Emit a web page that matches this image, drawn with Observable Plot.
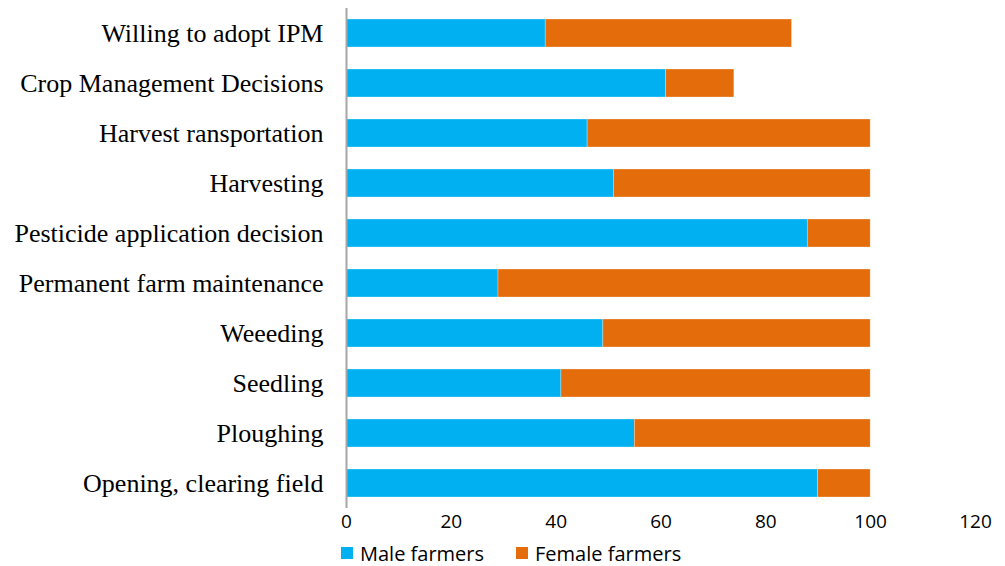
<!DOCTYPE html>
<html>
<head>
<meta charset="utf-8">
<script src="https://cdn.jsdelivr.net/npm/d3@7"></script>
<script src="https://cdn.jsdelivr.net/npm/@observablehq/plot@0.6"></script>
<style>
  body { margin: 0; background: #fff; }
  #legend { display: flex; align-items: center; padding-left: 341px; height: 26px; font-family: "Open Sans", sans-serif; font-size: 20px; color: #000; }
  .sw { display: inline-block; width: 12px; height: 12px; margin-right: 7px; }
  .item { display: flex; align-items: center; margin-right: 32px; }
</style>
</head>
<body>
<div id="chart"></div>
<div id="legend"></div>
<script>
const categories = [
  "Willing to adopt IPM",
  "Crop Management Decisions",
  "Harvest ransportation",
  "Harvesting",
  "Pesticide application decision",
  "Permanent farm maintenance",
  "Weeeding",
  "Seedling",
  "Ploughing",
  "Opening, clearing field"
];
const maleValues   = [38, 61, 46, 51, 88, 29, 49, 41, 55, 90];
const femaleValues = [47, 13, 54, 49, 12, 71, 51, 59, 45, 10];
const seriesNames = ["Male farmers", "Female farmers"];
const seriesColors = ["#00B0F0", "#E46C0A"];
const xTicks = [0, 20, 40, 60, 80, 100, 120];

const data = [];
categories.forEach((c, i) => {
  data.push({category: c, series: seriesNames[0], value: maleValues[i]});
  data.push({category: c, series: seriesNames[1], value: femaleValues[i]});
});

const chart = Plot.plot({
  width: 1005,
  height: 540,
  marginLeft: 346,
  marginRight: 30,
  marginTop: 8,
  marginBottom: 32,
  style: {background: "#fff"},
  x: {domain: [0, 120], ticks: xTicks, label: null},
  y: {domain: categories, label: null, paddingInner: 0.44, paddingOuter: 0.22},
  color: {domain: seriesNames, range: seriesColors},
  marks: [
    Plot.barX(data, Plot.stackX({x: "value", y: "category", fill: "series", order: null, stroke: "#ffffff", strokeOpacity: 0.5, strokeWidth: 0.6})),
    Plot.axisX({ticks: xTicks, tickSize: 0, tickPadding: 6, fontSize: 19, fontFamily: "Open Sans, sans-serif", fill: "#000", label: null}),
    Plot.axisY({tickSize: 0, tickPadding: 23, fontSize: 26, fontFamily: "Liberation Serif, Times New Roman, serif", fill: "#000", label: null}),
    Plot.ruleX([0], {stroke: "#A6A6A6", strokeWidth: 2})
  ]
});
document.getElementById("chart").appendChild(chart);

const legend = document.getElementById("legend");
seriesNames.forEach((n, i) => {
  const it = document.createElement("span");
  it.className = "item";
  it.innerHTML = `<span class="sw" style="background:${seriesColors[i]}"></span>${n}`;
  legend.appendChild(it);
});
</script>
</body>
</html>
